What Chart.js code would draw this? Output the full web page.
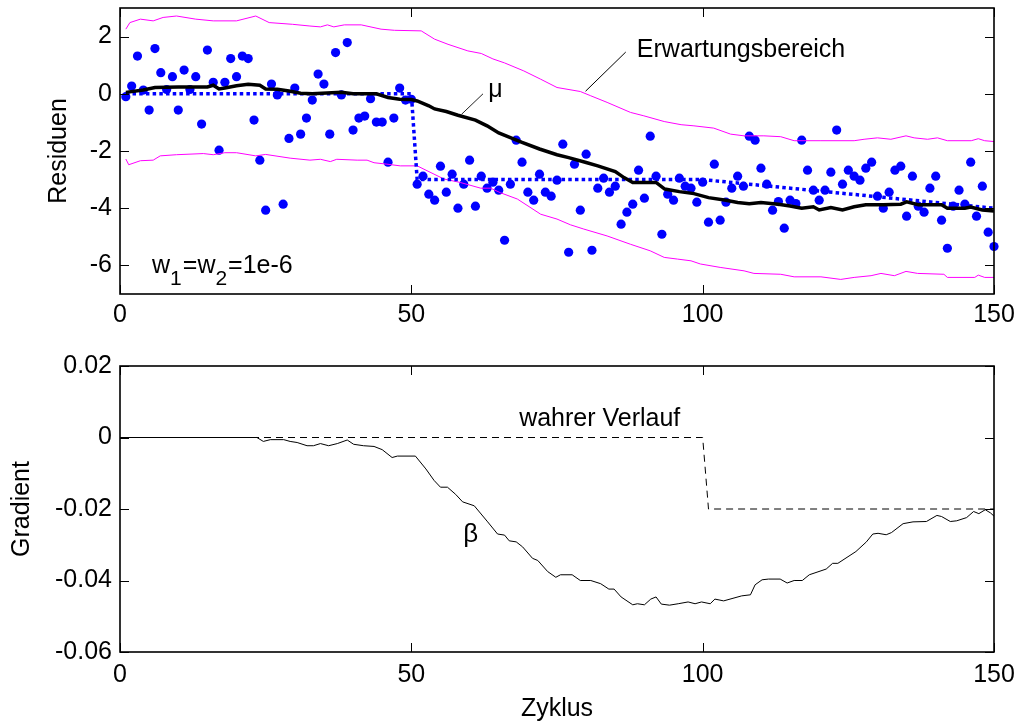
<!DOCTYPE html>
<html>
<head>
<meta charset="utf-8">
<script src="https://cdn.jsdelivr.net/npm/chart.js@4.4.1/dist/chart.umd.min.js"></script>
<style>
  html, body { margin: 0; padding: 0; background: #fff; overflow: hidden; }
  canvas { position: absolute; left: 0; }
</style>
</head>
<body>
<canvas id="residChart" width="1018" height="330" style="top:0px"></canvas>
<canvas id="gradChart" width="1018" height="394" style="top:330px"></canvas>
<script>
// ---- residuals per cycle (cycles 1..150) ----
const residuals = [
  -0.1, 0.27, 1.32, 0.13, -0.57, 1.58, 0.74, 0.15, 0.6, -0.57,
  0.83, 0.15, 0.6, -1.06, 1.53, 0.4, -1.97, 0.4, 1.23, 0.6,
  1.32, 1.23, -0.92, -2.32, -4.07, 0.34, -0.04, -3.86, -1.56, 0.2,
  -1.41, -0.85, -0.22, 0.69, 0.34, -1.41, 1.44, -0.04, 1.79, -1.27,
  -0.85, -0.78, -0.17, -0.99, -0.99, -2.39, -0.85, 0.2, -0.22, -0.19,
  -3.16, -2.88, -3.51, -3.72, -2.53, -3.44, -2.81, -4.0, -3.16, -2.32,
  -3.93, -2.88, -3.3, -3.09, -3.37, -5.12, -3.16, -1.62, -2.39, -3.44,
  -3.72, -2.81, -3.44, -3.58, -3.02, -1.76, -5.54, -2.46, -4.07, -2.11,
  -5.47, -3.3, -2.95, -3.44, -3.23, -4.56, -4.14, -3.86, -2.67, -3.65,
  -1.48, -2.88, -4.91, -3.51, -3.72, -2.95, -3.23, -3.3, -3.79, -3.09,
  -4.49, -2.46, -4.42, -3.79, -3.3, -2.88, -3.23, -1.48, -1.62, -2.6,
  -3.16, -4.07, -3.77, -4.7, -3.72, -3.84, -1.62, -2.67, -3.37, -3.72,
  -3.37, -2.74, -1.27, -3.16, -2.67, -2.88, -3.02, -2.6, -2.39, -3.58,
  -4.0, -3.44, -2.67, -2.53, -4.28, -2.88, -3.93, -4.14, -3.3, -2.88,
  -4.42, -5.4, -3.93, -3.37, -3.86, -2.39, -4.28, -3.23, -4.84, -5.34
];

// ---- estimated mean mu ----
const muX = [1,4,6,10,15,16,17,18,20,22,24,25,27,29,31,33,38,40,44,46,48,50,51,53,54,56,58,61,63,65,67,69,72,75,77,80,82,85,86.5,88,92,93.5,96,98.5,101,104,106,108,110,113,115,117,119,120,122,124,126,128,131,134,135,137,141,142,145,146,148,150];
const muY = [0.05,0.13,0.22,0.24,0.24,0.3,0.17,0.2,0.28,0.33,0.3,0.17,0.16,0.1,0.02,0.0,0.05,0.0,0.0,-0.13,-0.19,-0.2,-0.25,-0.42,-0.53,-0.62,-0.75,-0.92,-1.12,-1.37,-1.53,-1.7,-1.93,-2.13,-2.23,-2.4,-2.52,-2.72,-2.93,-3.1,-3.1,-3.33,-3.42,-3.49,-3.63,-3.72,-3.8,-3.84,-3.8,-3.86,-3.92,-4.0,-3.95,-4.06,-3.98,-4.06,-3.95,-3.88,-3.88,-3.86,-3.78,-3.88,-3.88,-4.0,-4.0,-3.96,-4.06,-4.1];

// ---- expected range (upper / lower bound) ----
const upX = [1,1.7,3.5,5.7,7.4,9.7,13,16,20,23.3,25.6,29.6,32.6,34.4,35.6,36.7,38.5,41.4,44.8,47.1,51.7,54,56.3,59.7,62,64,66,69.3,72.2,75,79,80.8,83.6,87.6,89.9,93.4,96.3,98.5,101.9,104.8,107.1,110.5,113.4,115.7,120.3,126,127.7,130,132.3,134.9,136.3,138.6,140.3,142,146.1,147.3,148.4,150];
const upY = [2.26,2.49,2.61,2.55,2.67,2.72,2.61,2.55,2.55,2.72,2.49,2.43,2.37,2.34,2.41,2.34,2.41,2.41,2.26,2.22,2.2,1.91,1.73,1.5,1.41,1.22,1.08,0.8,0.51,0.22,0.08,-0.07,-0.3,-0.65,-0.77,-0.97,-1.08,-1.12,-1.2,-1.41,-1.47,-1.47,-1.5,-1.64,-1.64,-1.64,-1.59,-1.54,-1.59,-1.47,-1.54,-1.59,-1.54,-1.64,-1.64,-1.57,-1.64,-1.67];
const loX = [1,1.5,3.5,5.7,6.9,9.7,14.3,16,18,20,23.3,25,29.2,32.6,34.4,36.1,37.2,40.7,42.4,43.6,45.8,48.1,51,52.7,55.6,58.4,61.9,63.6,65.3,68.2,72.2,75,77.3,79.6,83.6,87.6,91,93.4,95.7,98,99.6,103,107.1,108.8,113.4,115.7,120.3,123.7,126,128.9,130.6,132.9,134.9,136.9,141.4,142,146.7,147.3,148.4,150];
const loY = [-2.28,-2.48,-2.34,-2.32,-2.17,-2.13,-2.09,-2.13,-2.06,-2.06,-2.17,-2.12,-2.25,-2.32,-2.29,-2.37,-2.29,-2.32,-2.32,-2.41,-2.46,-2.52,-2.52,-2.69,-2.98,-3.1,-3.3,-3.3,-3.46,-3.68,-4.21,-4.38,-4.58,-4.73,-4.97,-5.26,-5.49,-5.72,-5.78,-5.84,-5.95,-6.07,-6.19,-6.28,-6.31,-6.4,-6.4,-6.49,-6.42,-6.36,-6.28,-6.36,-6.21,-6.28,-6.31,-6.42,-6.42,-6.34,-6.42,-6.42];

// ---- true mean level (dotted) ----
const trueMeanX = [1, 50, 51, 100, 150];
const trueMeanY = [0, 0, -3, -3, -4];

// ---- gradient beta and its true course ----
const betaX = [0,23.5,24.6,25.8,28.1,29.2,30.4,32.1,33.2,34.4,35.8,37.3,39,40.1,41.8,43.6,45,46.7,47.6,50.7,52.5,53.9,55,56.2,57.6,58.8,60.8,63.1,64.8,66,66.8,68,69.1,70.8,71.7,73.4,74.8,75.6,77.6,79,80.8,82.5,83.9,84.8,86,88,88.8,90,91.1,92,92.9,94.3,95.8,97.5,98.7,99.8,101.3,102.1,103.6,106.7,108.2,109,110.2,111.3,113.3,114.5,115.7,117.1,118.3,121.2,122.3,123.2,126.3,128.1,129.2,130.1,131.5,132.4,134.4,136.1,138.4,140.2,141,142.5,143.6,145.3,146.5,147.4,148.5,149.4,150];
const betaY = [0,0,-0.0011,-0.0006,-0.0006,-0.0011,-0.0014,-0.0023,-0.0023,-0.0017,-0.0023,-0.0017,-0.0007,-0.0019,-0.0023,-0.0025,-0.0034,-0.0056,-0.0052,-0.0052,-0.0088,-0.012,-0.0139,-0.0139,-0.0159,-0.018,-0.0191,-0.0236,-0.027,-0.0273,-0.0289,-0.0292,-0.0306,-0.0338,-0.0344,-0.0375,-0.0391,-0.0384,-0.0384,-0.04,-0.04,-0.0409,-0.0424,-0.0424,-0.0446,-0.0468,-0.0465,-0.0468,-0.0452,-0.0446,-0.0466,-0.0469,-0.0465,-0.046,-0.0465,-0.046,-0.0465,-0.0452,-0.0457,-0.0443,-0.044,-0.0412,-0.0398,-0.0396,-0.0396,-0.0407,-0.04,-0.04,-0.0384,-0.0368,-0.0352,-0.0352,-0.0319,-0.0292,-0.027,-0.0268,-0.0272,-0.0266,-0.0241,-0.0236,-0.0235,-0.0218,-0.0221,-0.0235,-0.0233,-0.0224,-0.0207,-0.0213,-0.0202,-0.0211,-0.022];
const trueGradX = [0, 100, 101, 150];
const trueGradY = [0, 0, -0.02, -0.02];

// ---- axis ticks ----
const cycleTicks = [0, 50, 100, 150];
const cycleLabels = ['0', '50', '100', '150'];
const residTicks = [-6, -4, -2, 0, 2];
const residLabels = ['-6', '-4', '-2', '0', '2'];
const gradTicks = [-0.06, -0.04, -0.02, 0, 0.02];
const gradLabels = ['-0.06', '-0.04', '-0.02', '0', '0.02'];

const FONT = '"Liberation Sans", Arial, Helvetica, sans-serif';
Chart.defaults.font.family = FONT;
Chart.defaults.font.size = 25;
Chart.defaults.color = '#000';

const pts = (xs, ys) => xs.map((x, i) => ({ x: x, y: ys[i] }));

function lineSet(data, color, width, dash, order) {
  return { data, borderColor: color, borderWidth: width, borderDash: dash || [],
           pointRadius: 0, fill: false, tension: 0, order, borderCapStyle: 'butt' };
}

// frame around the plot area with inward tick marks on all four sides
const framePlugin = {
  id: 'frame',
  afterDatasetsDraw(chart) {
    const { ctx, chartArea: a, scales: { x, y } } = chart;
    const len = 9;
    ctx.save();
    ctx.strokeStyle = '#000';
    ctx.lineWidth = 1;
    ctx.beginPath();
    x.ticks.forEach(t => {
      const px = Math.round(x.getPixelForValue(t.value)) + 0.5;
      ctx.moveTo(px, a.bottom); ctx.lineTo(px, a.bottom - len);
      ctx.moveTo(px, a.top); ctx.lineTo(px, a.top + len);
    });
    y.ticks.forEach(t => {
      const py = Math.round(y.getPixelForValue(t.value)) + 0.5;
      ctx.moveTo(a.left, py); ctx.lineTo(a.left + len, py);
      ctx.moveTo(a.right, py); ctx.lineTo(a.right - len, py);
    });
    ctx.stroke();
    ctx.lineWidth = 1.6;
    ctx.strokeRect(a.left, a.top, a.right - a.left, a.bottom - a.top);
    ctx.restore();
  }
};

// text labels and leader lines placed in data coordinates
function notesPlugin(notes, leaders) {
  return {
    id: 'notes',
    afterDatasetsDraw(chart) {
      const { ctx, scales: { x, y } } = chart;
      ctx.save();
      ctx.lineWidth = 1;
      leaders.forEach(l => {
        ctx.strokeStyle = l.color;
        ctx.beginPath();
        ctx.moveTo(x.getPixelForValue(l.x1), y.getPixelForValue(l.y1));
        ctx.lineTo(x.getPixelForValue(l.x2), y.getPixelForValue(l.y2));
        ctx.stroke();
      });
      ctx.fillStyle = '#000';
      ctx.textAlign = 'left';
      ctx.textBaseline = 'alphabetic';
      notes.forEach(n => {
        let px = x.getPixelForValue(n.x);
        const py = y.getPixelForValue(n.y);
        n.parts.forEach(p => {
          ctx.font = (p.sub ? 21 : n.size) + 'px ' + FONT;
          ctx.fillText(p.t, px, py + (p.sub ? 12 : 0));
          px += ctx.measureText(p.t).width + (p.sub ? 1 : 0);
        });
      });
      ctx.restore();
    }
  };
}

function fixedTicks(values) {
  return scale => { scale.ticks = values.map(v => ({ value: v })); };
}

// fixed box sizes so the plot area lands exactly where wanted
function fitTo(prop, size) {
  return s => {
    s[prop] = size;
    s.paddingTop = 0; s.paddingBottom = 0; s.paddingLeft = 0; s.paddingRight = 0;
  };
}

function axisOptions(min, max, tickValues, tickLabels, pad) {
  return {
    type: 'linear', min, max,
    grid: { display: false, drawTicks: false },
    border: { display: false },
    afterBuildTicks: fixedTicks(tickValues),
    ticks: { padding: pad, autoSkip: false, maxRotation: 0,
             callback: (v, i) => tickLabels[i] }
  };
}

// ---------- upper panel: residuals ----------
const topX = axisOptions(0, 150, cycleTicks, cycleLabels, 6);
topX.afterFit = fitTo('height', 36);
const topY = axisOptions(-7, 3, residTicks, residLabels, 8);
topY.afterFit = fitTo('width', 120);
topY.title = { display: true, text: 'Residuen', padding: { top: 44, bottom: 0 } };

new Chart(document.getElementById('residChart'), {
  type: 'line',
  data: {
    datasets: [
      { data: residuals.map((v, i) => ({ x: i + 1, y: v })), showLine: false,
        pointRadius: 4.6, pointHoverRadius: 4.6, pointBackgroundColor: '#0000ff',
        pointBorderWidth: 0, borderColor: '#0000ff', clip: false, order: 5 },
      lineSet(pts(upX, upY), '#ff00ff', 1, null, 4),
      lineSet(pts(loX, loY), '#ff00ff', 1, null, 4),
      lineSet(pts(trueMeanX, trueMeanY), '#0000ff', 3.5, [3.5, 3.2], 3),
      lineSet(pts(muX, muY), '#000000', 3.5, null, 2)
    ]
  },
  options: {
    responsive: false, animation: false, events: [],
    layout: { padding: { left: 0, top: 8, right: 24, bottom: 0 } },
    plugins: { legend: { display: false }, tooltip: { enabled: false } },
    scales: { x: topX, y: topY }
  },
  plugins: [framePlugin, notesPlugin(
    [
      { x: 88.7, y: 1.28, size: 25, parts: [{ t: 'Erwartungsbereich' }] },
      { x: 63.2, y: -0.12, size: 25, parts: [{ t: 'μ' }] },
      { x: 5.5, y: -6.27, size: 25, parts: [{ t: 'w' }, { t: '1', sub: true }, { t: '=w' }, { t: '2', sub: true }, { t: '=1e-6' }] }
    ],
    [
      { x1: 86.8, y1: 1.46, x2: 79.9, y2: 0.09, color: '#000' },
      { x1: 62.3, y1: 0.0, x2: 58.6, y2: -0.72, color: '#222' }
    ]
  )]
});

// ---------- lower panel: gradient ----------
const botX = axisOptions(0, 150, cycleTicks, cycleLabels, 8);
botX.afterFit = fitTo('height', 72);
botX.title = { display: true, text: 'Zyklus', padding: { top: 0, bottom: 0 } };
const botY = axisOptions(-0.06, 0.02, gradTicks, gradLabels, 8);
botY.afterFit = fitTo('width', 120);
botY.title = { display: true, text: 'Gradient', padding: { top: 7, bottom: 0 } };

new Chart(document.getElementById('gradChart'), {
  type: 'line',
  data: {
    datasets: [
      lineSet(pts(trueGradX, trueGradY), '#000000', 1, [7, 5], 2),
      lineSet(pts(betaX, betaY), '#000000', 1, null, 1)
    ]
  },
  options: {
    responsive: false, animation: false, events: [],
    layout: { padding: { left: 0, top: 36, right: 24, bottom: 0 } },
    plugins: { legend: { display: false }, tooltip: { enabled: false } },
    scales: { x: botX, y: botY }
  },
  plugins: [framePlugin, notesPlugin(
    [
      { x: 68.5, y: 0.0033, size: 25, parts: [{ t: 'wahrer Verlauf' }] },
      { x: 58.9, y: -0.0291, size: 26, parts: [{ t: 'β' }] }
    ],
    []
  )]
});
</script>
</body>
</html>
